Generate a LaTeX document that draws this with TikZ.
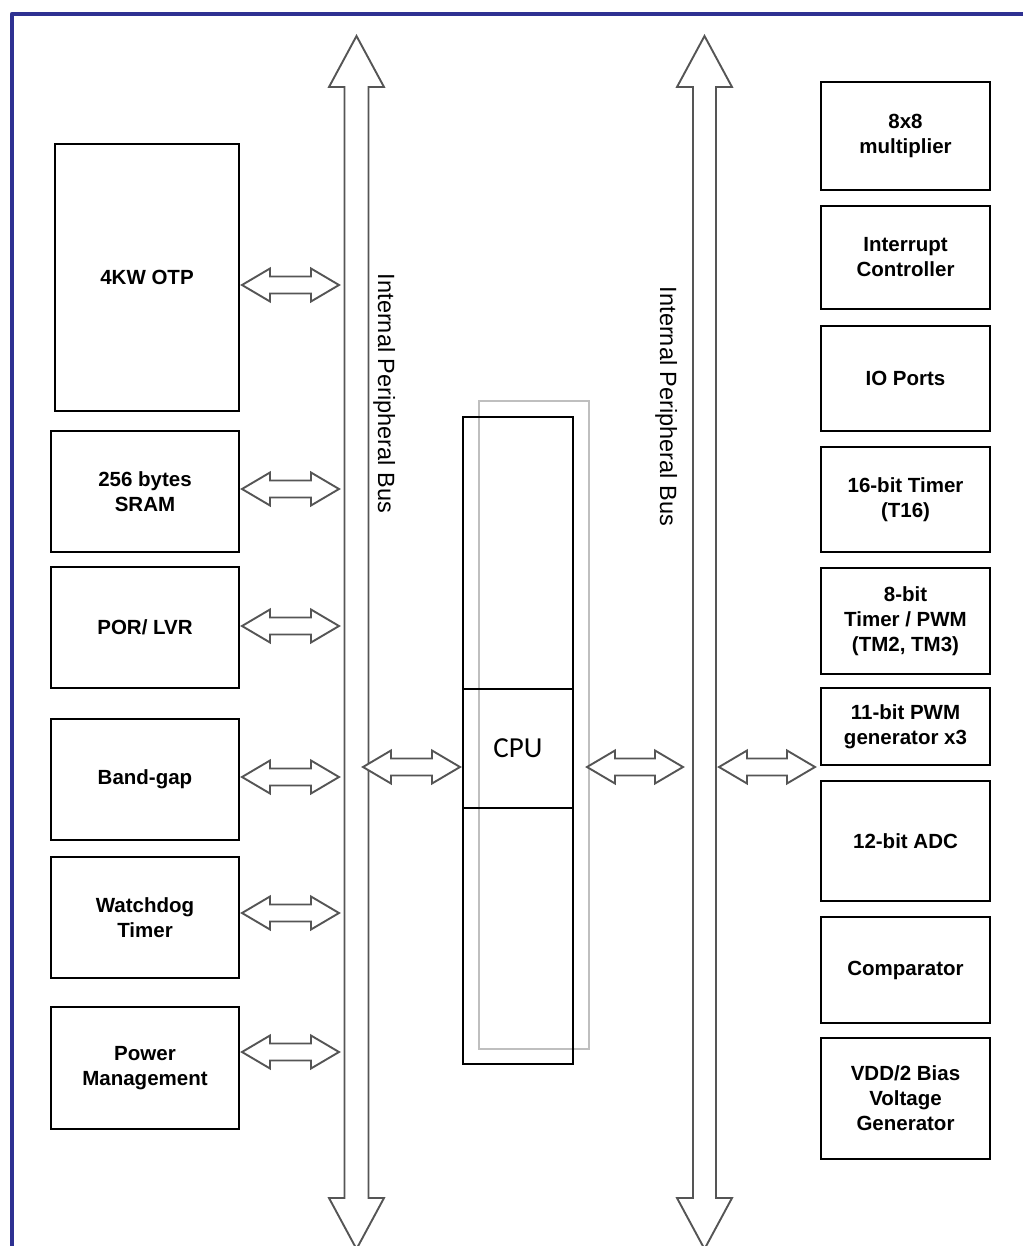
\documentclass[tikz,border=0pt]{standalone}
\usepackage{fontspec}
\setmainfont{Liberation Sans}
\newfontfamily\cpufont{Carlito}
\definecolor{frameblue}{HTML}{2E3192}
\definecolor{busgray}{HTML}{555555}
\newcommand{\dbl}[3]{\draw[blockarrow] (#1,#3) -- (#1+28,#3-16.5) -- (#1+28,#3-8.5) -- (#2-28,#3-8.5) -- (#2-28,#3-16.5) -- (#2,#3) -- (#2-28,#3+16.5) -- (#2-28,#3+8.5) -- (#1+28,#3+8.5) -- (#1+28,#3+16.5) -- cycle;}
\begin{document}
\begin{tikzpicture}[x=1pt,y=-1pt,
  box/.style={draw=black, line width=1.9pt, inner sep=0pt, align=center,
    font=\fontsize{20.5}{25}\selectfont\bfseries, text=black},
  blockarrow/.style={draw=busgray, line width=1.9pt, line join=miter, fill=white},
  buslabel/.style={font=\fontsize{23.5}{27}\selectfont, rotate=-90, anchor=base, text=black, inner sep=0pt}]
\useasboundingbox (0,0) rectangle (1022,1246);
% frame
\draw[frameblue, line width=4.5pt, line join=round] (12,1260) -- (12,14) -- (1040,14);
% buses
\draw[blockarrow] (356.5,36) -- (384,87) -- (368.5,87) -- (368.5,1198) -- (384,1198) -- (356.5,1249) -- (329,1198) -- (344.5,1198) -- (344.5,87) -- (329,87) -- cycle;
\draw[blockarrow] (704.5,36) -- (732,87) -- (716,87) -- (716,1198) -- (732,1198) -- (704.5,1249) -- (677,1198) -- (693,1198) -- (693,87) -- (677,87) -- cycle;
\node[buslabel] (bl1) at (378,393.5) {Internal Peripheral Bus};
\node[buslabel] (bl2) at (660,406.5) {Internal Peripheral Bus};
% left boxes
\node[box, minimum width=184, minimum height=267] (otp) at (147,277.5) {4KW OTP};
\node[box, minimum width=188, minimum height=121] (sram) at (145,491.5) {256 bytes\\SRAM};
\node[box, minimum width=188, minimum height=121] (por) at (145,627.5) {POR/ LVR};
\node[box, minimum width=188, minimum height=121] (bg) at (145,779.5) {Band-gap};
\node[box, minimum width=188, minimum height=121] (wdt) at (145,917.5) {Watchdog\\Timer};
\node[box, minimum width=188, minimum height=122] (pm) at (145,1068) {Power\\Management};
% right boxes
\node[box, minimum width=169, minimum height=108] (mult) at (905.5,136) {8x8\\multiplier};
\node[box, minimum width=169, minimum height=103] (intc) at (905.5,257.5) {Interrupt\\Controller};
\node[box, minimum width=169, minimum height=105] (io) at (905.5,378.5) {IO Ports};
\node[box, minimum width=169, minimum height=105] (t16) at (905.5,499.5) {16-bit Timer\\(T16)};
\node[box, minimum width=169, minimum height=106] (tm) at (905.5,621) {8-bit\\Timer / PWM\\(TM2, TM3)};
\node[box, minimum width=169, minimum height=77] (pwm) at (905.5,726.5) {11-bit PWM\\generator x3};
\node[box, minimum width=169, minimum height=120] (adc) at (905.5,841) {12-bit ADC};
\node[box, minimum width=169, minimum height=106] (comp) at (905.5,970) {Comparator};
\node[box, minimum width=169, minimum height=121] (vdd) at (905.5,1098.5) {VDD/2 Bias\\Voltage\\Generator};
% CPU
\draw[black!25, line width=1.5pt] (479,401) rectangle (589,1049);
\node[draw=black, line width=1.9pt, minimum width=110, minimum height=647, inner sep=0pt] (cpu) at (518,740.5) {};
\draw[line width=1.9pt] (463,689) -- (573,689);
\draw[line width=1.9pt] (463,808) -- (573,808);
\node[font=\cpufont\fontsize{29}{30}\selectfont, text=black] (cputxt) at (518,748) {CPU};
% double arrows
\dbl{242}{339}{285}
\dbl{242}{339}{489}
\dbl{242}{339}{626}
\dbl{242}{339}{777}
\dbl{242}{339}{913}
\dbl{242}{339}{1052}
\dbl{363}{460}{767}
\dbl{587}{683}{767}
\dbl{719}{815}{767}
\end{tikzpicture}
\end{document}
